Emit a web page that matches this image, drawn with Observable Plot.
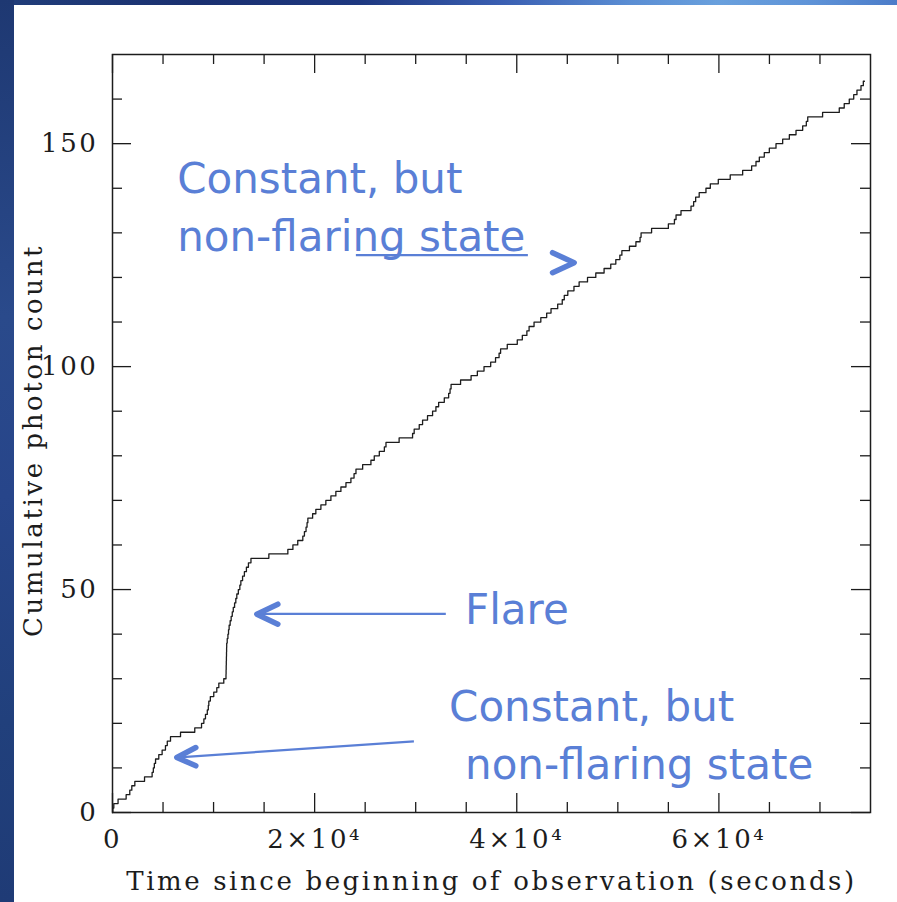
<!DOCTYPE html>
<html>
<head>
<meta charset="utf-8">
<script src="https://cdn.jsdelivr.net/npm/d3@7"></script>
<script src="https://cdn.jsdelivr.net/npm/@observablehq/plot@0.6"></script>
<style>
  html, body { margin: 0; padding: 0; background: #fff; }
  #page { position: relative; width: 897px; height: 902px; overflow: hidden; background: #fff; }
  #band-top {
    position: absolute; left: 0; top: 0; width: 897px; height: 5px; z-index: 2;
    background: linear-gradient(to right, #213e7a 0%, #1a3070 22%, #1e3880 40%, #3a5fb2 56%, #5a8dd3 70%, #69a0dd 80%, #5f94d8 90%, #4c7cc9 100%);
  }
  #band-left {
    position: absolute; left: 0; top: 0; width: 14px; height: 902px; z-index: 2;
    background: linear-gradient(to bottom, #1e3872 0%, #2a4a8b 35%, #27458a 55%, #21407c 80%, #1f3b76 100%);
  }
  #chart { position: absolute; left: 0; top: 0; }
  #chart svg text { letter-spacing: 2.6px; }
  #chart g[font-family="DejaVu Sans"] text { letter-spacing: 0; }
</style>
</head>
<body>
<div id="page">
  <div id="band-top"></div>
  <div id="band-left"></div>
  <div id="chart"></div>
</div>
<script>
// Arrival time (s) of each detected photon; the curve climbs by one count at each.
const arrivalTimes = [
  30, 130, 550, 1350, 1710, 1910, 2210, 3170, 3920, 4040,
  4140, 4260, 4580, 4910, 5240, 5420, 5740, 6730, 8140, 8810,
  9040, 9200, 9380, 9480, 9530, 9680, 10020, 10320, 10520, 11010,
  11230, 11240, 11250, 11260, 11270, 11280, 11290, 11300, 11350, 11420,
  11480, 11540, 11640, 11740, 11850, 11950, 12080, 12200, 12300, 12450,
  12600, 12700, 12870, 13050, 13250, 13450, 13700, 15470, 17350, 17850,
  18330, 18830, 18990, 19150, 19250, 19330, 19800, 20120, 20620, 21110,
  21610, 22100, 22600, 23100, 23590, 23900, 24090, 24750, 25570, 25900,
  26400, 26900, 27060, 28360, 29690, 29850, 30350, 30680, 31170, 31670,
  32000, 32270, 32830, 33260, 33400, 33500, 34440, 35480, 36100, 36760,
  37420, 37900, 38250, 38400, 39060, 40050, 40550, 41000, 41220, 41710,
  42380, 42960, 43390, 44050, 44500, 44700, 45050, 45660, 46170, 47000,
  47820, 48640, 49300, 49800, 50200, 50400, 51150, 51790, 52200, 52300,
  53340, 55000, 55600, 55760, 56250, 57240, 57500, 57700, 58050, 58720,
  59150, 59940, 61120, 62350, 63240, 63670, 64000, 64490, 64990, 65650,
  66310, 66970, 67630, 68290, 68650, 68790, 70260, 71910, 72400, 72900,
  73340, 73660, 74060, 74290
];
const observationEnd = 74400;

// Axes
const xDomain = [0, 75000];
const yDomain = [0, 170];
const xMajorTicks = [0, 20000, 40000, 60000];
const xTickLabels = ["0", "2×10⁴", "4×10⁴", "6×10⁴"];
const xMinorTicks = [5000, 10000, 15000, 25000, 30000, 35000, 45000, 50000, 55000, 65000, 70000];
const yMajorTicks = [0, 50, 100, 150];
const yTickLabels = ["0", "50", "100", "150"];
const yMinorTicks = [10, 20, 30, 40, 60, 70, 80, 90, 110, 120, 130, 140, 160];
const xTitle = "Time since beginning of observation (seconds)";
const yTitle = "Cumulative photon count";

// Annotation callouts, positioned in (time, count) coordinates
const noteText  = ["Constant, but", "non-flaring state", "Flare", "Constant, but", "non-flaring state"];
const noteTime  = [6400, 6400, 34880, 33300, 34880];
const noteCount = [138.9, 125.9, 42.3, 20.6, 7.6];

// Arrow shafts: [t1, c1, t2, c2]
const arrowShafts = [
  [24080, 125.0, 41100, 125.0],
  [14480, 44.55, 32980, 44.55],
  [6561, 12.38, 29820, 15.94]
];
// Arrow heads (open chevrons): arm, tip, arm
const arrowHeads = [
  [[43540, 125.55], [45680, 123.31], [43540, 121.07]],
  [[16360, 46.72], [14280, 44.48], [16360, 42.24]],
  [[8243, 14.57], [6363, 12.33], [8243, 10.47]]
];

const W = 897, H = 902;
const mL = 112, mR = 27, mT = 54, mB = 90;
const innerW = W - mL - mR, innerH = H - mT - mB;
const minorLen = 10, majorLen = 19;

const steps = [{t: 0, n: 0}]
  .concat(arrivalTimes.map((t, i) => ({t, n: i + 1})))
  .concat([{t: observationEnd, n: arrivalTimes.length}]);

const notes = noteText.map((s, i) => ({s, t: noteTime[i], c: noteCount[i]}));
const shafts = arrowShafts.map(([t1, c1, t2, c2]) => ({t1, c1, t2, c2}));
const heads = arrowHeads.flatMap((pts, k) => pts.map(([t, c]) => ({k, t, c})));

const ink = "#1c1c1c";
const blue = "#5a7fd6";
const labelSize = 26;

const chart = Plot.plot({
  width: W,
  height: H,
  marginLeft: mL, marginRight: mR, marginTop: mT, marginBottom: mB,
  style: {fontFamily: "DejaVu Serif", fontSize: `${labelSize}px`, background: "transparent", color: ink},
  x: {domain: xDomain},
  y: {domain: yDomain},
  marks: [
    // inward ticks on all four sides
    Plot.tickX(xMinorTicks, {x: d => d, insetTop: innerH - minorLen, stroke: ink, strokeWidth: 1.3}),
    Plot.tickX(xMajorTicks, {x: d => d, insetTop: innerH - majorLen, stroke: ink, strokeWidth: 1.3}),
    Plot.tickX(xMinorTicks, {x: d => d, insetBottom: innerH - minorLen, stroke: ink, strokeWidth: 1.3}),
    Plot.tickX(xMajorTicks, {x: d => d, insetBottom: innerH - majorLen, stroke: ink, strokeWidth: 1.3}),
    Plot.tickY(yMinorTicks, {y: d => d, insetRight: innerW - minorLen, stroke: ink, strokeWidth: 1.3}),
    Plot.tickY(yMajorTicks, {y: d => d, insetRight: innerW - majorLen, stroke: ink, strokeWidth: 1.3}),
    Plot.tickY(yMinorTicks, {y: d => d, insetLeft: innerW - minorLen, stroke: ink, strokeWidth: 1.3}),
    Plot.tickY(yMajorTicks, {y: d => d, insetLeft: innerW - majorLen, stroke: ink, strokeWidth: 1.3}),
    Plot.axisX(xMajorTicks, {
      anchor: "bottom", tickSize: 0, tickPadding: 17, label: null, fontSize: labelSize,
      tickFormat: d => xTickLabels[xMajorTicks.indexOf(d)], fill: ink
    }),
    Plot.axisY(yMajorTicks, {
      anchor: "left", tickSize: 0, tickPadding: 14, label: null, fontSize: labelSize,
      tickFormat: d => yTickLabels[yMajorTicks.indexOf(d)], fill: ink
    }),
    Plot.text([xTitle], {frameAnchor: "bottom", textAnchor: "middle", lineAnchor: "bottom", dy: 77, fontSize: labelSize, fill: ink}),
    Plot.text([yTitle], {frameAnchor: "left", textAnchor: "middle", lineAnchor: "bottom", rotate: -90, dx: -71, dy: 7, fontSize: labelSize, fill: ink}),
    Plot.frame({stroke: ink, strokeWidth: 1.5}),
    // cumulative photon count
    Plot.line(steps, {x: "t", y: "n", curve: "step-after", stroke: ink, strokeWidth: 1.3}),
    // callouts
    Plot.link(shafts, {x1: "t1", y1: "c1", x2: "t2", y2: "c2", stroke: blue, strokeWidth: 2.2}),
    Plot.line(heads, {x: "t", y: "c", z: "k", stroke: blue, strokeWidth: 5.5, strokeLinecap: "round", strokeLinejoin: "round"}),
    Plot.text(notes, {
      x: "t", y: "c", text: "s", textAnchor: "start", lineAnchor: "bottom",
      fontFamily: "DejaVu Sans", fontSize: 42, fill: blue
    })
  ]
});

document.getElementById("chart").appendChild(chart);
</script>
</body>
</html>
